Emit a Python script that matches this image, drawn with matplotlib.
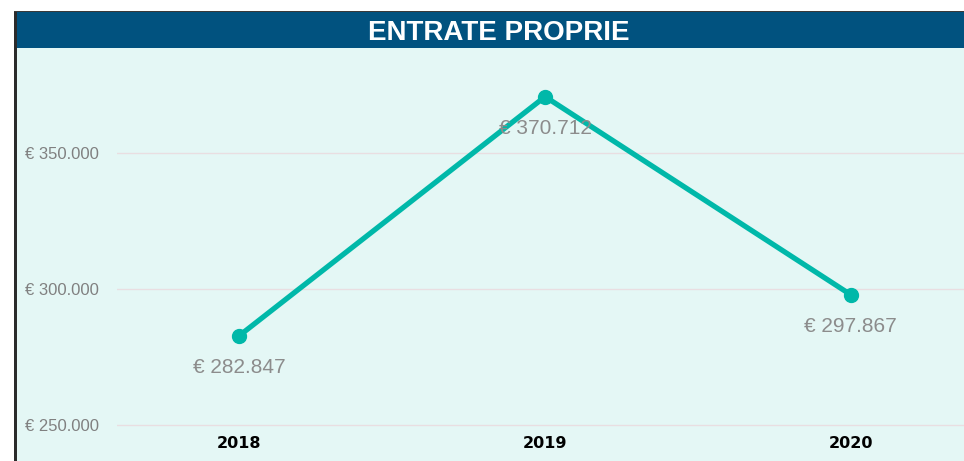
"""
Entrate proprie — andamento 2018-2020
Linha com marcadores e rótulos de valor, no estilo do painel original.
"""

import matplotlib
matplotlib.use('Agg')
import matplotlib.pyplot as plt
from matplotlib.patches import Rectangle

# ── Dados ─────────────────────────────────────────────────────────────────────
anni = ['2018', '2019', '2020']
entrate = [282847, 370712, 297867]
tick_valori = [250000, 300000, 350000]

W, H = 964, 461
def fx(px): return px / W
def fy(py): return 1 - py / H

def euro(v):
    return '€ ' + f'{v:,.0f}'.replace(',', '.')

plt.rcParams['font.family'] = ['Liberation Sans', 'DejaVu Sans']

fig = plt.figure(figsize=(W / 100, H / 100), dpi=100)
fig.patch.set_facecolor('white')

# ── Moldura / cabeçalho ───────────────────────────────────────────────────────
fig.patches.append(Rectangle((fx(16), 0), 1 - fx(16), fy(48), transform=fig.transFigure,
                             facecolor='#E4F7F5', edgecolor='none', zorder=-3))
fig.patches.append(Rectangle((fx(16), fy(48)), 1 - fx(16), fy(12) - fy(48), transform=fig.transFigure,
                             facecolor='#01527F', edgecolor='none', zorder=-3))
fig.patches.append(Rectangle((fx(14), 0), fx(2.5), fy(11), transform=fig.transFigure,
                             facecolor='#2B2B2B', edgecolor='none', zorder=-2))
fig.patches.append(Rectangle((fx(14), fy(12.5)), 1 - fx(14), fy(11) - fy(12.5), transform=fig.transFigure,
                             facecolor='#3A3A3A', edgecolor='none', zorder=-2))
fig.text(fx(499), fy(33.5), 'ENTRATE PROPRIE', color='white', fontsize=20,
         fontweight='bold', ha='center', va='center')

# ── Gráfico ───────────────────────────────────────────────────────────────────
# eixo estende 4 px abaixo da linha de 250.000 para a grade não ser cortada
ax = fig.add_axes([fx(117), fy(429), fx(964) - fx(117), fy(49) - fy(429)])
ax.set_facecolor('none')
x = list(range(len(anni)))
ax.plot(x, entrate, color='#00B8A9', linewidth=3.8, marker='o', markersize=10,
        solid_capstyle='round', zorder=3, clip_on=False)
for xi, v in zip(x, entrate):
    ax.annotate(euro(v), (xi, v), xytext=(0, -23), textcoords='offset points',
                ha='center', va='center', fontsize=15, color='#8C8C8C', zorder=4)

px_per_val = 136 / 50000
ax.set_xlim(-0.4, 2.37)
ax.set_ylim(250000 - 4 / px_per_val, 250000 + (425 - 49) / px_per_val)
ax.set_yticks(tick_valori)
ax.set_yticklabels([euro(v) for v in tick_valori], ha='left', color='#808080', fontsize=12)
ax.set_xticks(x)
ax.set_xticklabels(anni, fontsize=11.5, fontweight='bold', color='black', family='DejaVu Sans')
ax.tick_params(axis='y', length=0, pad=66)
ax.tick_params(axis='x', length=0, pad=5)
ax.grid(axis='y', color='#E9DEE1', linewidth=1)
ax.set_axisbelow(True)
for s in ax.spines.values():
    s.set_visible(False)

fig.savefig('out.png', dpi=100)
